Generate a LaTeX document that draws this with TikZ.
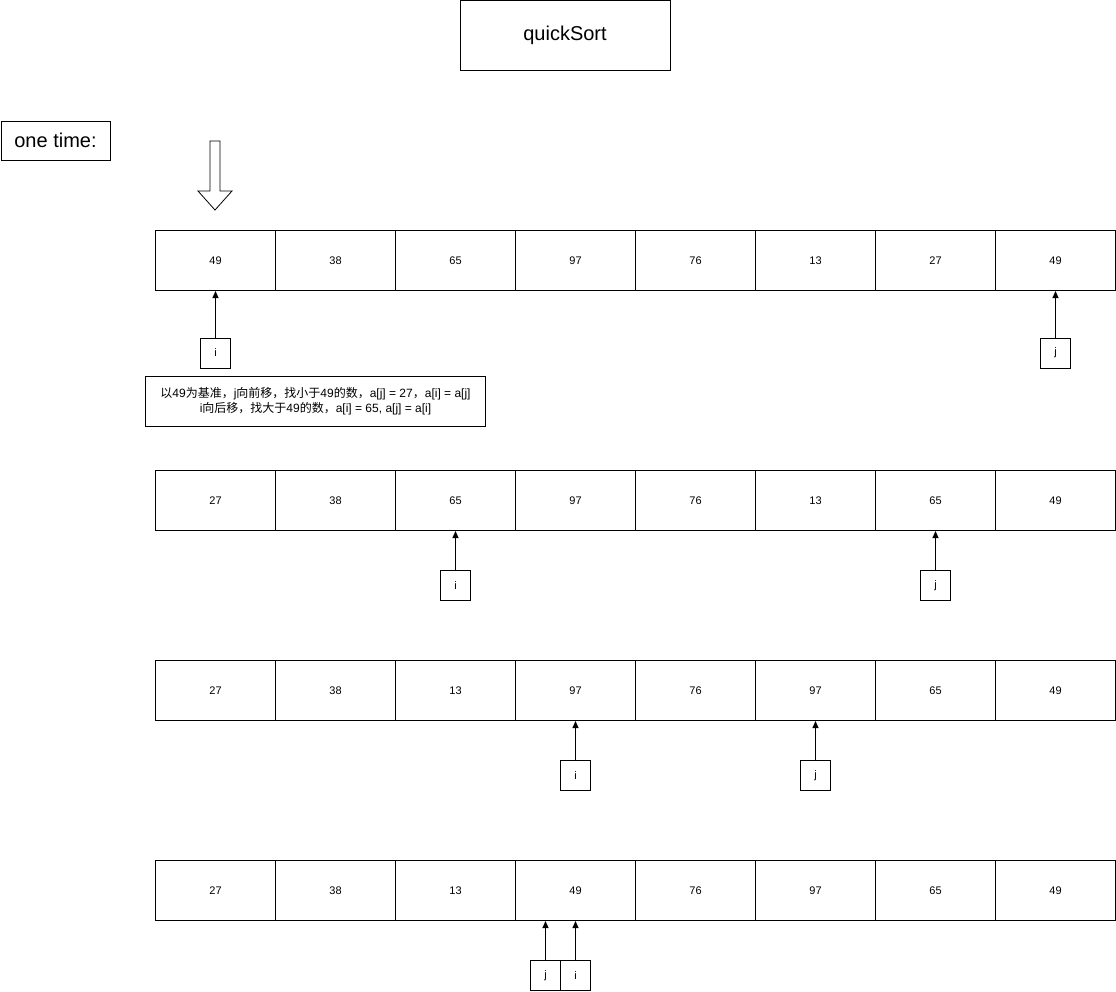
\documentclass[tikz,border=0pt]{standalone}
\usepackage{fontspec}
\setmainfont{Liberation Sans}
\newfontfamily\cjk{Noto Sans CJK SC}
\usetikzlibrary{arrows.meta}
\begin{document}
\begin{tikzpicture}[x=1pt,y=-1pt,line width=1pt,
  cell/.style={draw,minimum width=120pt,minimum height=60pt,inner sep=0pt,font=\fontsize{11}{13}\selectfont},
  ptr/.style={draw,minimum width=30pt,minimum height=30pt,inner sep=0pt,font=\fontsize{11}{13}\selectfont},
  up/.style={-{Triangle[length=7pt,width=6pt]}},
  big/.style={draw,inner sep=0pt,font=\fontsize{20}{24}\selectfont}]
\useasboundingbox (0,0) rectangle (1116,991);

% title and label
\node[big,minimum width=210pt,minimum height=70pt] (title) at (565,35.5) {quickSort};
\node[big,minimum width=109pt,minimum height=39pt] (once) at (55.5,140.5) {one time:};

% hollow arrow marking the pivot
\draw[line width=0.8pt] (210,141) -- (220,141) -- (220,191) -- (232,191) -- (215,210) -- (198,191) -- (210,191) -- cycle;

% array rows
\foreach \r/\y/\vals in {a/260.5/{49,38,65,97,76,13,27,49},
                         b/500.5/{27,38,65,97,76,13,65,49},
                         c/690.5/{27,38,13,97,76,97,65,49},
                         d/890.5/{27,38,13,49,76,97,65,49}}{
  \foreach \v [count=\k] in \vals {
    \node[cell] (\r\k) at (95.5+120*\k,\y) {\v};
  }
}

% pointers
\node[ptr] (ai) at (215.5,353) {i};
\node[ptr] (aj) at (1055.5,353) {j};
\draw[up] (ai) -- (a1.south);
\draw[up] (aj) -- (a8.south);

\node[ptr] (bi) at (455.5,585.5) {i};
\node[ptr] (bj) at (935.5,585.5) {j};
\draw[up] (bi) -- (b3.south);
\draw[up] (bj) -- (b7.south);

\node[ptr] (ci) at (575.5,775.5) {i};
\node[ptr] (cj) at (815.5,775.5) {j};
\draw[up] (ci) -- (c4.south);
\draw[up] (cj) -- (c6.south);

\node[ptr] (dj) at (545.5,975.5) {j};
\node[ptr] (di) at (575.5,975.5) {i};
\draw[up] (dj.north) -- (dj.north |- d4.south);
\draw[up] (di) -- (d4.south);

% explanation note
\node[draw,minimum width=340pt,minimum height=50pt,inner sep=0pt,align=center,
      font=\fontsize{12}{15}\selectfont] (note) at (315.5,401) {%
  {\cjk 以}49{\cjk 为基准，}j{\cjk 向前移，找小于}49{\cjk 的数，}a[j] = 27{\cjk ，}a[i] = a[j]\\
  i{\cjk 向后移，找大于}49{\cjk 的数，}a[i] = 65, a[j] = a[i]};
\end{tikzpicture}
\end{document}
